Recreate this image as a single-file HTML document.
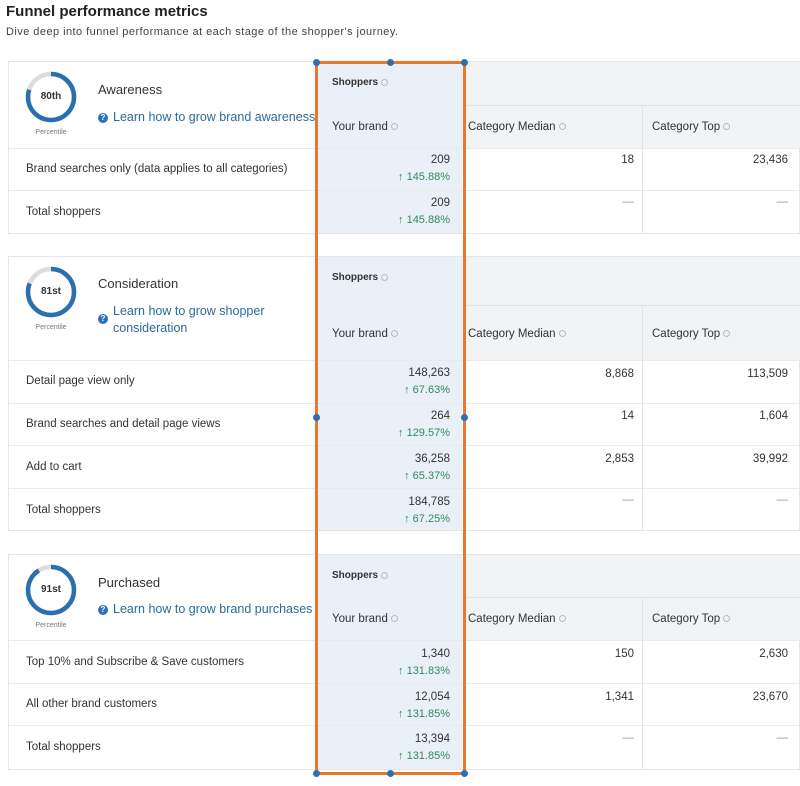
<!DOCTYPE html>
<html><head><meta charset="utf-8"><style>
*{margin:0;padding:0;box-sizing:border-box}
body{width:800px;height:786px;background:#fff;font-family:"Liberation Sans",sans-serif;color:#333;position:relative;overflow:hidden}
.a{position:absolute}
.card{position:absolute;left:8px;width:792px;border:1px solid #e6e6e6;background:#fff}
.hl{position:absolute;background:#eaeaea;height:1px}
.vl{position:absolute;background:#e4e4e4;width:1px}
.t{position:absolute;font-size:11.5px;color:#333;white-space:nowrap;line-height:16px}
.r{text-align:right}
.g{color:#2f8a5c;font-size:11px}
.dash{color:#999}
.dot{display:inline-block;width:7px;height:7px;border-radius:50%;border:1px solid #bbb;vertical-align:middle;margin-left:3px}
.lnk{color:#2b6a9c;font-size:12.5px}
.q{display:inline-block;width:10px;height:10px;border-radius:50%;background:#2b73b8;color:#fff;font-size:8px;text-align:center;line-height:10px;font-weight:bold;vertical-align:1px;margin-right:5px}
.bd{position:absolute;width:7px;height:7px;border-radius:50%;background:#2f6db5}
</style></head><body>
<div class="t" style="left:6px;top:4px;font-size:15px;font-weight:bold;color:#222">Funnel performance metrics</div>
<div class="t" style="left:6px;top:24px;font-size:11px;letter-spacing:0.45px;color:#444">Dive deep into funnel performance at each stage of the shopper's journey.</div>

<!-- Section 1 -->
<div class="card" style="top:61px;height:173px"></div>
<div class="a" style="left:318px;top:62px;width:482px;height:86px;background:#f2f3f5"></div>
<div class="a" style="left:318px;top:62px;width:144px;height:171px;background:#eaf0f7"></div>
<div class="hl" style="left:462px;top:105px;width:338px;background:#e2e2e2"></div>
<div class="hl" style="left:9px;top:148px;width:791px"></div>
<div class="hl" style="left:9px;top:190px;width:791px"></div>
<div class="vl" style="left:642px;top:105px;height:128px"></div>
<svg class="a" style="left:24px;top:70px" width="54" height="54"><circle cx="27" cy="27" r="23" fill="none" stroke="#ddd" stroke-width="4.5"/><circle cx="27" cy="27" r="23" fill="none" stroke="#2a6fae" stroke-width="4.5" stroke-dasharray="115.6 144.5" transform="rotate(-90 27 27)"/></svg>
<div class="t" style="left:24px;top:89px;width:54px;text-align:center;font-size:10px;font-weight:bold">80th</div>
<div class="t" style="left:24px;top:125px;width:54px;text-align:center;font-size:7px;color:#777">Percentile</div>
<div class="t" style="left:98px;top:82px;font-size:13px">Awareness</div>
<div class="t lnk" style="left:98px;top:109px;width:218px;overflow:hidden"><span class="q">?</span>Learn how to grow brand awareness</div>
<div class="t" style="left:332px;top:75px;font-size:10px;font-weight:bold">Shoppers<span class="dot"></span></div>
<div class="t" style="left:332px;top:119px">Your brand<span class="dot"></span></div>
<div class="t" style="left:468px;top:119px">Category Median<span class="dot"></span></div>
<div class="t" style="left:652px;top:119px">Category Top<span class="dot"></span></div>
<div class="t" style="left:26px;top:161px">Brand searches only (data applies to all categories)</div>
<div class="t" style="left:26px;top:204px">Total shoppers</div>
<div class="t r" style="left:350px;width:100px;top:152px;line-height:17px">209<br><span class="g">↑ 145.88%</span></div>
<div class="t r" style="left:350px;width:100px;top:195px;line-height:17px">209<br><span class="g">↑ 145.88%</span></div>
<div class="t r" style="left:534px;width:100px;top:152px">18</div>
<div class="t r" style="left:688px;width:100px;top:152px">23,436</div>
<div class="t r dash" style="left:534px;width:100px;top:194px">—</div>
<div class="t r dash" style="left:688px;width:100px;top:194px">—</div>

<!-- Section 2 -->
<div class="card" style="top:256px;height:275px"></div>
<div class="a" style="left:318px;top:257px;width:482px;height:103px;background:#f2f3f5"></div>
<div class="a" style="left:318px;top:257px;width:144px;height:273px;background:#eaf0f7"></div>
<div class="hl" style="left:462px;top:305px;width:338px;background:#e2e2e2"></div>
<div class="hl" style="left:9px;top:360px;width:791px"></div>
<div class="hl" style="left:9px;top:403px;width:791px"></div>
<div class="hl" style="left:9px;top:445px;width:791px"></div>
<div class="hl" style="left:9px;top:488px;width:791px"></div>
<div class="vl" style="left:642px;top:305px;height:225px"></div>
<svg class="a" style="left:24px;top:265px" width="54" height="54"><circle cx="27" cy="27" r="23" fill="none" stroke="#ddd" stroke-width="4.5"/><circle cx="27" cy="27" r="23" fill="none" stroke="#2a6fae" stroke-width="4.5" stroke-dasharray="117 144.5" transform="rotate(-90 27 27)"/></svg>
<div class="t" style="left:24px;top:284px;width:54px;text-align:center;font-size:10px;font-weight:bold">81st</div>
<div class="t" style="left:24px;top:320px;width:54px;text-align:center;font-size:7px;color:#777">Percentile</div>
<div class="t" style="left:98px;top:276px;font-size:13px">Consideration</div>
<div class="t lnk" style="left:98px;top:303px;line-height:17px"><span class="q" style="position:absolute;left:0;top:11px">?</span><span style="display:block;margin-left:15px">Learn how to grow shopper<br>consideration</span></div>
<div class="t" style="left:332px;top:270px;font-size:10px;font-weight:bold">Shoppers<span class="dot"></span></div>
<div class="t" style="left:332px;top:326px">Your brand<span class="dot"></span></div>
<div class="t" style="left:468px;top:326px">Category Median<span class="dot"></span></div>
<div class="t" style="left:652px;top:326px">Category Top<span class="dot"></span></div>
<div class="t" style="left:26px;top:373px">Detail page view only</div>
<div class="t" style="left:26px;top:416px">Brand searches and detail page views</div>
<div class="t" style="left:26px;top:459px">Add to cart</div>
<div class="t" style="left:26px;top:502px">Total shoppers</div>
<div class="t r" style="left:350px;width:100px;top:365px;line-height:17px">148,263<br><span class="g">↑ 67.63%</span></div>
<div class="t r" style="left:350px;width:100px;top:408px;line-height:17px">264<br><span class="g">↑ 129.57%</span></div>
<div class="t r" style="left:350px;width:100px;top:451px;line-height:17px">36,258<br><span class="g">↑ 65.37%</span></div>
<div class="t r" style="left:350px;width:100px;top:494px;line-height:17px">184,785<br><span class="g">↑ 67.25%</span></div>
<div class="t r" style="left:534px;width:100px;top:366px">8,868</div>
<div class="t r" style="left:688px;width:100px;top:366px">113,509</div>
<div class="t r" style="left:534px;width:100px;top:408px">14</div>
<div class="t r" style="left:688px;width:100px;top:408px">1,604</div>
<div class="t r" style="left:534px;width:100px;top:451px">2,853</div>
<div class="t r" style="left:688px;width:100px;top:451px">39,992</div>
<div class="t r dash" style="left:534px;width:100px;top:492px">—</div>
<div class="t r dash" style="left:688px;width:100px;top:492px">—</div>

<!-- Section 3 -->
<div class="card" style="top:554px;height:216px"></div>
<div class="a" style="left:318px;top:555px;width:482px;height:85px;background:#f2f3f5"></div>
<div class="a" style="left:318px;top:555px;width:144px;height:214px;background:#eaf0f7"></div>
<div class="hl" style="left:462px;top:597px;width:338px;background:#e2e2e2"></div>
<div class="hl" style="left:9px;top:640px;width:791px"></div>
<div class="hl" style="left:9px;top:683px;width:791px"></div>
<div class="hl" style="left:9px;top:725px;width:791px"></div>
<div class="vl" style="left:642px;top:597px;height:172px"></div>
<svg class="a" style="left:24px;top:563px" width="54" height="54"><circle cx="27" cy="27" r="23" fill="none" stroke="#ddd" stroke-width="4.5"/><circle cx="27" cy="27" r="23" fill="none" stroke="#2a6fae" stroke-width="4.5" stroke-dasharray="131.5 144.5" transform="rotate(-90 27 27)"/></svg>
<div class="t" style="left:24px;top:582px;width:54px;text-align:center;font-size:10px;font-weight:bold">91st</div>
<div class="t" style="left:24px;top:618px;width:54px;text-align:center;font-size:7px;color:#777">Percentile</div>
<div class="t" style="left:98px;top:575px;font-size:13px">Purchased</div>
<div class="t lnk" style="left:98px;top:601px;width:218px;overflow:hidden"><span class="q">?</span>Learn how to grow brand purchases</div>
<div class="t" style="left:332px;top:568px;font-size:10px;font-weight:bold">Shoppers<span class="dot"></span></div>
<div class="t" style="left:332px;top:611px">Your brand<span class="dot"></span></div>
<div class="t" style="left:468px;top:611px">Category Median<span class="dot"></span></div>
<div class="t" style="left:652px;top:611px">Category Top<span class="dot"></span></div>
<div class="t" style="left:26px;top:654px">Top 10% and Subscribe &amp; Save customers</div>
<div class="t" style="left:26px;top:696px">All other brand customers</div>
<div class="t" style="left:26px;top:739px">Total shoppers</div>
<div class="t r" style="left:350px;width:100px;top:646px;line-height:17px">1,340<br><span class="g">↑ 131.83%</span></div>
<div class="t r" style="left:350px;width:100px;top:689px;line-height:17px">12,054<br><span class="g">↑ 131.85%</span></div>
<div class="t r" style="left:350px;width:100px;top:731px;line-height:17px">13,394<br><span class="g">↑ 131.85%</span></div>
<div class="t r" style="left:534px;width:100px;top:646px">150</div>
<div class="t r" style="left:688px;width:100px;top:646px">2,630</div>
<div class="t r" style="left:534px;width:100px;top:689px">1,341</div>
<div class="t r" style="left:688px;width:100px;top:689px">23,670</div>
<div class="t r dash" style="left:534px;width:100px;top:730px">—</div>
<div class="t r dash" style="left:688px;width:100px;top:730px">—</div>

<!-- Orange highlight -->
<div class="a" style="left:315px;top:61px;width:151px;height:714px;border:3px solid #e9782d"></div>
<div class="bd" style="left:313px;top:59px"></div>
<div class="bd" style="left:387px;top:59px"></div>
<div class="bd" style="left:461px;top:59px"></div>
<div class="bd" style="left:313px;top:414px"></div>
<div class="bd" style="left:461px;top:414px"></div>
<div class="bd" style="left:313px;top:770px"></div>
<div class="bd" style="left:387px;top:770px"></div>
<div class="bd" style="left:461px;top:770px"></div>
</body></html>
